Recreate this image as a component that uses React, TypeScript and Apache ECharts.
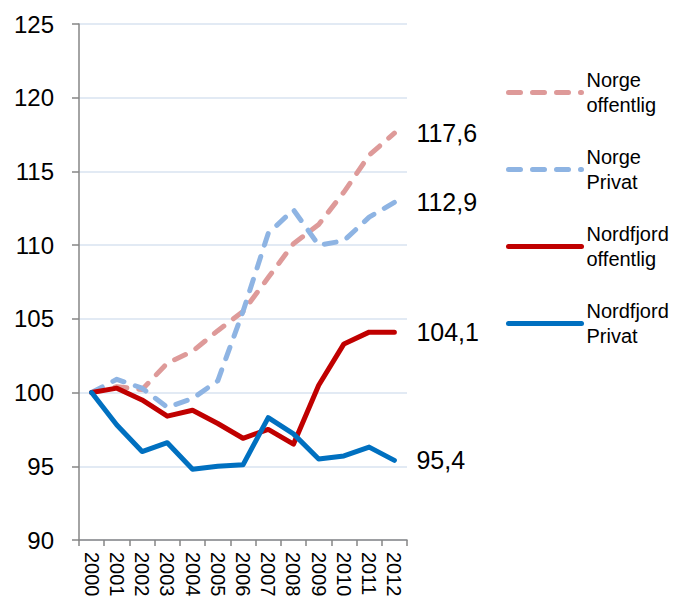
import React, { useEffect, useRef } from "react";
import * as echarts from "echarts";

const years = ["2000", "2001", "2002", "2003", "2004", "2005", "2006", "2007", "2008", "2009", "2010", "2011", "2012"];
const norgeOffentlig = [100, 100.4, 100.2, 102.0, 102.8, 104.2, 105.5, 107.8, 110.1, 111.4, 113.6, 116.1, 117.6];
const norgePrivat = [100, 100.9, 100.3, 99.0, 99.6, 100.8, 105.5, 110.8, 112.4, 110.0, 110.3, 111.9, 112.9];
const nordfjordOffentlig = [100, 100.3, 99.5, 98.4, 98.8, 97.9, 96.9, 97.5, 96.5, 100.5, 103.3, 104.1, 104.1];
const nordfjordPrivat = [100, 97.8, 96.0, 96.6, 94.8, 95.0, 95.1, 98.3, 97.2, 95.5, 95.7, 96.3, 95.4];
const seriesNames = ["Norge\noffentlig", "Norge\nPrivat", "Nordfjord\noffentlig", "Nordfjord\nPrivat"];
const yTicks = { min: 90, max: 125, interval: 5 };

const FONT = "Liberation Sans, Arial, sans-serif";

export default function App() {
  const ref = useRef<HTMLDivElement>(null);
  useEffect(() => {
    if (!ref.current) return;
    const chart = echarts.init(ref.current, null, { renderer: "svg" });
    const mk = (name: string, data: number[], color: string, dashed: boolean) => ({
      name,
      type: "line",
      data,
      symbol: "none",
      showSymbol: false,
      lineStyle: {
        color,
        width: 5,
        type: dashed ? [12, 12] : "solid",
        cap: "round",
        join: "round",
      },
      itemStyle: { color },
      endLabel: {
        show: true,
        distance: 22,
        fontFamily: FONT,
        fontSize: 25,
        color: "#000",
        formatter: (p: any) => String(p.value).replace(".", ","),
      },
    });
    chart.setOption({
      animation: false,
      backgroundColor: "#fff",
      grid: { left: 79, right: 267, top: 24, bottom: 58, containLabel: false, outerBoundsMode: "none" },
      legend: {
        orient: "vertical",
        left: 501,
        top: 50,
        itemWidth: 73,
        itemHeight: 14,
        itemGap: 2,
        data: seriesNames,
        lineStyle: { width: 5, cap: "round" },
        itemStyle: { opacity: 0, borderWidth: 0 },
        textStyle: {
          fontFamily: FONT,
          fontSize: 20,
          lineHeight: 25,
          color: "#000",
          padding: [25, 0, 0, 0],
        },
      },
      xAxis: {
        type: "category",
        data: years,
        boundaryGap: true,
        axisLine: { lineStyle: { color: "#868686", width: 1.5 } },
        axisTick: { show: true, length: 6, interval: 0, lineStyle: { color: "#868686", width: 1.5 } },
        axisLabel: {
          interval: 0,
          rotate: -90,
          margin: 12,
          fontFamily: FONT,
          fontSize: 20,
          color: "#000",
        },
        splitLine: { show: false },
      },
      yAxis: {
        type: "value",
        min: yTicks.min,
        max: yTicks.max,
        interval: yTicks.interval,
        axisLine: { show: true, lineStyle: { color: "#868686", width: 1.5 } },
        axisTick: { show: true, length: 7, lineStyle: { color: "#868686", width: 1.5 } },
        axisLabel: { margin: 25, fontFamily: FONT, fontSize: 24, color: "#000" },
        splitLine: { show: true, lineStyle: { color: "#D9E3F0", width: 1.5 } },
      },
      series: [
        mk(seriesNames[0], norgeOffentlig, "#DE9A99", true),
        mk(seriesNames[1], norgePrivat, "#8EB4E3", true),
        mk(seriesNames[2], nordfjordOffentlig, "#C00000", false),
        mk(seriesNames[3], nordfjordPrivat, "#0070C0", false),
      ],
    });
    return () => chart.dispose();
  }, []);
  return (
    <div style={{ position: "fixed", left: 0, top: 0, width: 674, height: 598, overflow: "hidden" }}>
      <div ref={ref} style={{ width: 674, height: 598 }} />
    </div>
  );
}
